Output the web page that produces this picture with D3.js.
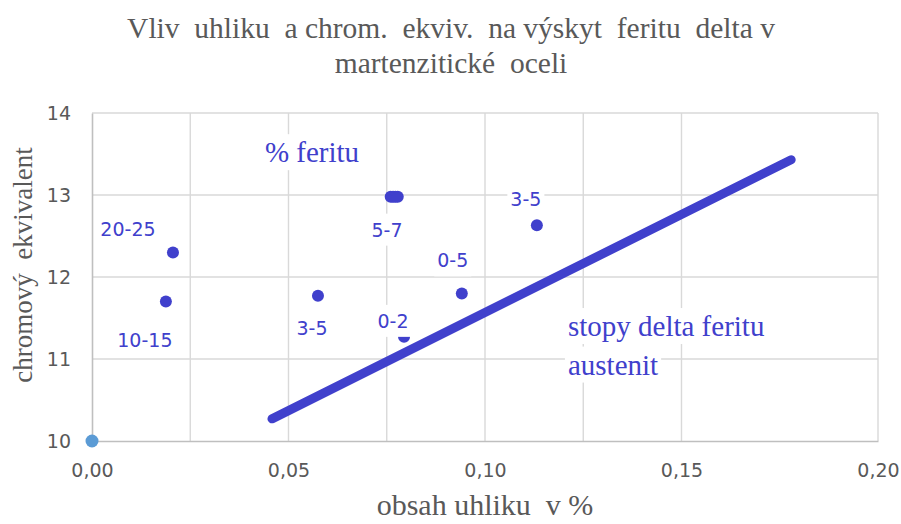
<!DOCTYPE html>
<html>
<head>
<meta charset="utf-8">
<script src="https://cdn.jsdelivr.net/npm/d3@7/dist/d3.min.js"></script>
<style>
  html, body { margin: 0; padding: 0; background: #fff; }
  text { white-space: pre; }
</style>
</head>
<body>
<svg id="chart" width="901" height="524"></svg>
<script>
// ---- data ----
const titleLines = ["Vliv  uhliku  a chrom.  ekviv.  na výskyt  feritu  delta v", "martenzitické  oceli"];
const xAxisTitle = "obsah uhliku  v %";
const yAxisTitle = "chromový  ekvivalent";
const xTickValues = [0.00, 0.05, 0.10, 0.15, 0.20];
const xTickLabels = ["0,00", "0,05", "0,10", "0,15", "0,20"];
const xGridValues = [0.025, 0.05, 0.075, 0.10, 0.125, 0.15];
const yTickValues = [10, 11, 12, 13, 14];
const yTickLabels = ["10", "11", "12", "13", "14"];

// measured points (% C, Cr equivalent) with % ferrite labels
const pointCarbon = [0.0206, 0.0188, 0.0575, 0.0760, 0.0766, 0.0772, 0.0778, 0.0941, 0.1132, 0.0794];
const pointCrEq   = [12.30, 11.70, 11.77, 12.98, 12.98, 12.98, 12.98, 11.80, 12.63, 11.27];
const pointLabels = ["20-25", "10-15", "3-5", "", "5-7", "", "", "0-5", "3-5", "0-2"];
// label offsets in px (styling, not data)
const labelDx = [-45, -21, -6, 0, -6, 0, 0, -9, -11, -11];
const labelDy = [-16, 45, 39, 0, 40, 0, 0, -26, -19, -9];

// boundary line
const lineCarbon = [0.0458, 0.1779];
const lineCrEq   = [10.27, 13.43];

// origin series
const originCarbon = [0.0];
const originCrEq = [10];

// annotations
const annoText = ["% feritu", "stopy delta feritu", "austenit"];
const annoCarbon = [0.0440, 0.1211, 0.1211];
const annoCrEq = [13.40, 11.28, 10.81];

// ---- layout ----
const svg = d3.select("#chart");
const plot = { left: 92, top: 113, right: 878, bottom: 441 };
const x = d3.scaleLinear().domain([0, 0.20]).range([plot.left, plot.right]);
const y = d3.scaleLinear().domain([10, 14]).range([plot.bottom, plot.top]);

const blue = "#4040CC";
const gray = "#595959";
const serif = "'Liberation Serif', 'Times New Roman', serif";
const sans = "'DejaVu Sans', Verdana, sans-serif";

// title
svg.append("g").selectAll("text").data(titleLines).join("text")
  .attr("x", 451).attr("y", (d, i) => 38 + i * 35)
  .attr("text-anchor", "middle")
  .attr("font-family", serif).attr("font-size", 29.5)
  .attr("fill", gray).text(d => d);

// gridlines
const grid = svg.append("g");
grid.selectAll("line.h").data(yTickValues.filter(v => v > 10)).join("line")
  .attr("x1", plot.left).attr("x2", plot.right)
  .attr("y1", d => y(d)).attr("y2", d => y(d))
  .attr("stroke", "#d9d9d9").attr("stroke-width", 1.4);
grid.selectAll("line.v").data(xGridValues.concat([0.20])).join("line")
  .attr("x1", d => x(d)).attr("x2", d => x(d))
  .attr("y1", plot.top).attr("y2", plot.bottom)
  .attr("stroke", "#d9d9d9").attr("stroke-width", 1.4);

// axes via d3 axis
const xAxis = d3.axisBottom(x).tickValues(xTickValues)
  .tickFormat((d, i) => xTickLabels[i]).tickSize(0).tickPadding(36);
const gx = svg.append("g").attr("transform", `translate(0,${plot.bottom})`).call(xAxis);
gx.select(".domain").attr("stroke", "#bfbfbf").attr("stroke-width", 1.6);
gx.selectAll("text").attr("font-family", sans).attr("font-size", 19).attr("fill", gray).attr("dy", 0);

const yAxis = d3.axisLeft(y).tickValues(yTickValues)
  .tickFormat((d, i) => yTickLabels[i]).tickSize(0).tickPadding(21);
const gy = svg.append("g").attr("transform", `translate(${plot.left},0)`).call(yAxis);
gy.select(".domain").attr("stroke", "#bfbfbf").attr("stroke-width", 1.6);
gy.selectAll("text").attr("font-family", sans).attr("font-size", 19).attr("fill", gray).attr("dy", "0.36em");

// axis titles
svg.append("text").attr("x", 485).attr("y", 515).attr("text-anchor", "middle")
  .attr("font-family", serif).attr("font-size", 30).attr("fill", gray).text(xAxisTitle);
svg.append("text").attr("transform", "translate(32,265) rotate(-90)").attr("text-anchor", "middle")
  .attr("font-family", serif).attr("font-size", 27).attr("fill", gray).text(yAxisTitle);

// boundary line
const lineData = lineCarbon.map((c, i) => [c, lineCrEq[i]]);
svg.append("path").datum(lineData)
  .attr("d", d3.line().x(d => x(d[0])).y(d => y(d[1])))
  .attr("fill", "none").attr("stroke", blue).attr("stroke-width", 9).attr("stroke-linecap", "round");

// points
const pts = pointCarbon.map((c, i) => ({ c, v: pointCrEq[i], label: pointLabels[i], dx: labelDx[i], dy: labelDy[i] }));
svg.append("g").selectAll("circle").data(pts).join("circle")
  .attr("cx", d => x(d.c)).attr("cy", d => y(d.v)).attr("r", 6).attr("fill", blue);

// origin point
svg.append("g").selectAll("circle").data(originCarbon.map((c, i) => [c, originCrEq[i]])).join("circle")
  .attr("cx", d => x(d[0])).attr("cy", d => y(d[1])).attr("r", 6.5).attr("fill", "#5B9BD5");

// data labels with white background
function labelWithBox(g, tx, ty, txt, opts) {
  const t = g.append("text").attr("x", tx).attr("y", ty)
    .attr("text-anchor", opts.anchor).attr("font-family", opts.font)
    .attr("font-size", opts.size).attr("fill", blue).text(txt);
  const b = t.node().getBBox();
  g.insert("rect", () => t.node())
    .attr("x", b.x - opts.px).attr("y", b.y - opts.py)
    .attr("width", b.width + 2 * opts.px).attr("height", b.height + 2 * opts.py)
    .attr("fill", "#fff");
}
const lg = svg.append("g");
pts.filter(d => d.label).forEach(d => {
  labelWithBox(lg.append("g"), x(d.c) + d.dx, y(d.v) + d.dy, d.label,
    { anchor: "middle", font: sans, size: 19, px: 3, py: 5 });
});

// annotations
annoText.forEach((t, i) => {
  labelWithBox(lg.append("g"), x(annoCarbon[i]), y(annoCrEq[i]), t,
    { anchor: "start", font: serif, size: 29, px: 3, py: 2 });
});
</script>
</body>
</html>
